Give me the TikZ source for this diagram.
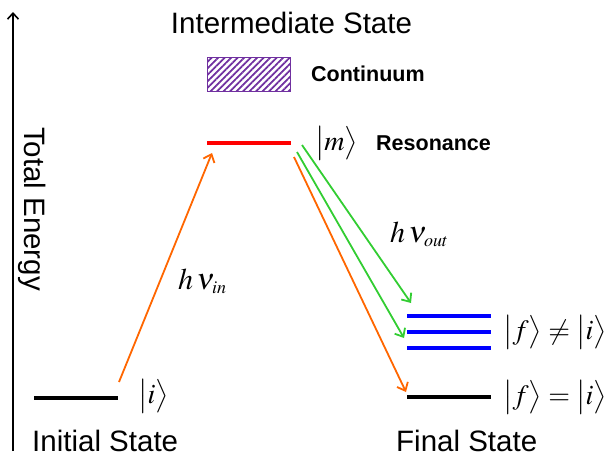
\documentclass[tikz,border=0pt]{standalone}
\usepackage{mathptmx}
\usepackage[no-math]{fontspec}
\setmainfont{Liberation Sans}
\usetikzlibrary{arrows.meta,patterns.meta}
\definecolor{orangeArrow}{RGB}{255,102,0}
\definecolor{greenArrow}{RGB}{50,205,50}
\definecolor{purpleHatch}{RGB}{112,48,160}
\begin{document}
\begin{tikzpicture}[x=1pt, y=-1pt,
  lvl/.style={minimum width=84pt, minimum height=4pt, inner sep=0pt, fill=#1},
  photon/.style={draw=#1, line width=1.8pt, -{Straight Barb[length=7pt,width=12pt]}},
  lbl/.style={inner sep=0pt, font=\fontsize{29.5}{35}\selectfont},
  note/.style={inner sep=0pt, font=\fontsize{21.5}{26}\selectfont\bfseries},
  ket/.style={inner sep=0pt, font=\fontsize{28}{33}\selectfont},
  freq/.style={inner sep=0pt, font=\fontsize{30}{36}\selectfont}
]
\useasboundingbox (0,0) rectangle (606,458);

% energy axis
\coordinate (axisBot) at (13,451);
\coordinate (axisTop) at (13,12);
\draw[line width=1.6pt, -{Straight Barb[length=6pt,width=11pt]}] (axisBot) -- (axisTop);
\node[lbl, rotate=-90, anchor=base] (energy) at (24,209) {Total Energy};

% levels
\node[lvl=black] (init) at (75.5,398) {};
\node[lvl=red] (mid) at (249,143) {};
\node[lvl=blue] (fin1) at (449,316) {};
\node[lvl=blue] (fin2) at (449,332) {};
\node[lvl=blue] (fin3) at (449,348) {};
\node[lvl=black] (fin0) at (449,397) {};
\node[draw=purpleHatch, line width=0.8pt, inner sep=0pt,
      minimum width=83pt, minimum height=34pt,
      pattern={Lines[angle=45,distance=4.6pt,line width=1.7pt]},
      pattern color=purpleHatch] (cont) at (248.5,74) {};

% labels
\node[lbl, anchor=base] (inter) at (291.5,33) {Intermediate State};
\node[note, anchor=base west] (contLbl) at (311,81) {Continuum};
\node[ket] (mKet) at (336.5,143) {$\bigl|m\bigr\rangle$};
\node[note, anchor=base west] (res) at (376,150) {Resonance};
\node[ket] (iKet) at (153.5,396) {$\bigl|i\bigr\rangle$};
\node[ket] (neqKet) at (555,332) {$\bigl|f\bigr\rangle\neq\bigl|i\bigr\rangle$};
\node[ket] (eqKet) at (555,397) {$\bigl|f\bigr\rangle=\bigl|i\bigr\rangle$};
\node[freq, anchor=base west] (hin) at (178,289) {$h\,\nu_{\scriptscriptstyle in}$};
\node[freq, anchor=base west] (hout) at (390,242) {$h\,\nu_{\scriptscriptstyle out}$};
\node[lbl, anchor=base west] (initLbl) at (32,451) {Initial State};
\node[lbl, anchor=base west] (finLbl) at (396,451) {Final State};

% photons
\coordinate (inStart) at (119,382);
\coordinate (inEnd) at (212,153);
\coordinate (elStart) at (294,157);
\coordinate (elEnd) at (406,392);
\coordinate (outStartA) at (302,145);
\coordinate (outEndA) at (411,303);
\coordinate (outStartB) at (297,152);
\coordinate (outEndB) at (404,338);
\draw[photon=orangeArrow] (inStart) -- (inEnd);
\draw[photon=orangeArrow] (elStart) -- (elEnd);
\draw[photon=greenArrow] (outStartA) -- (outEndA);
\draw[photon=greenArrow] (outStartB) -- (outEndB);
\end{tikzpicture}
\end{document}
